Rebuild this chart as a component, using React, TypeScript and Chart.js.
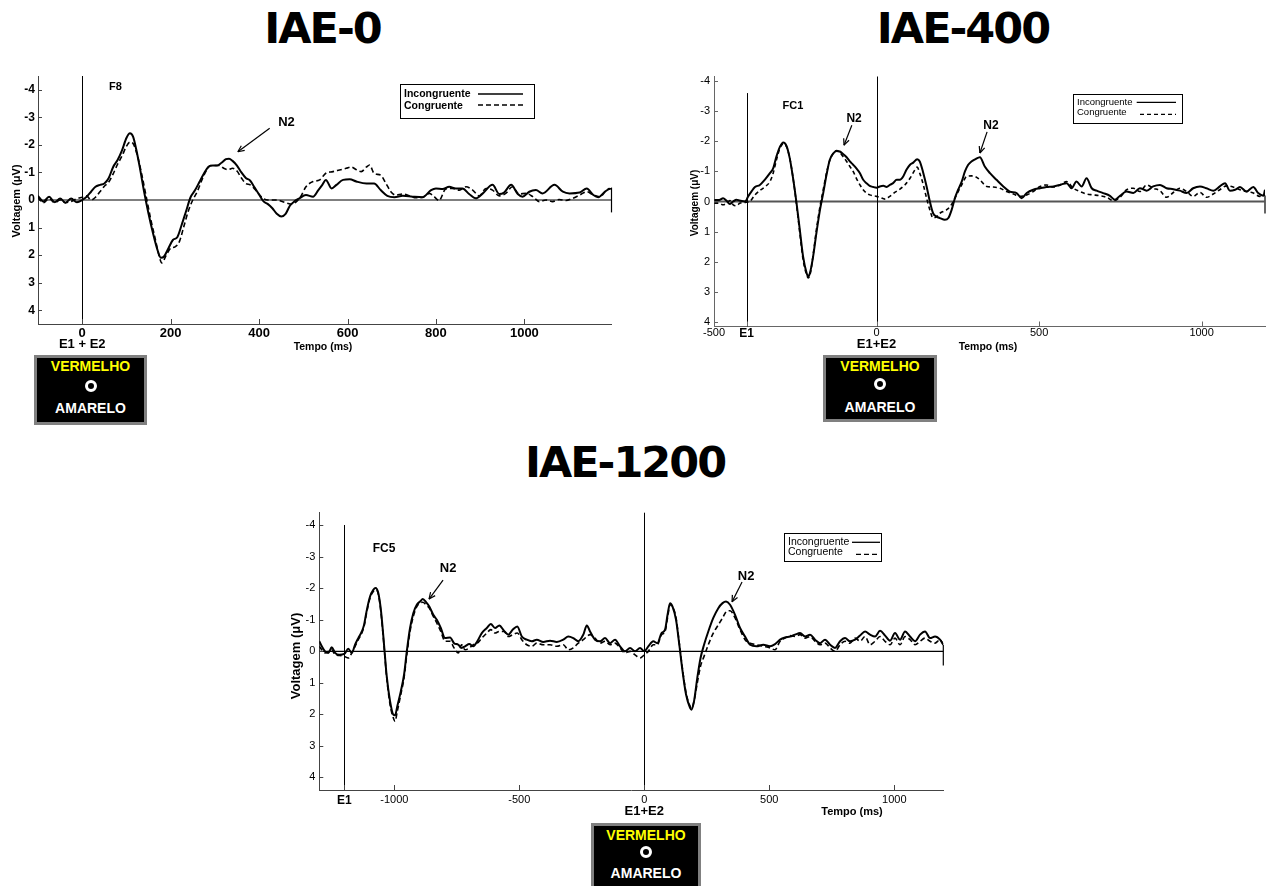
import React, { useEffect, useRef } from 'react';
import { Chart, registerables } from 'chart.js';

Chart.register(...registerables);

const FONT = 'Arial, "Liberation Sans", Helvetica, sans-serif';
const TITLE_FONT = '"DejaVu Sans", Verdana, sans-serif';

type Pt = [number, number]; // [time in ms, amplitude in µV]

// ---------- IAE-0 (F8) ----------
const iae0Incongruente: Pt[] = [
  [-100, -0.15], [-88, 0.05], [-75, -0.12], [-62, 0.08], [-50, -0.05], [-38, 0.1], [-25, -0.05], [-12, 0.08],
  [0, 0], [10, -0.12], [20, -0.3], [30, -0.48], [40, -0.55], [50, -0.6], [60, -0.8], [70, -1.2], [80, -1.45],
  [90, -1.8], [100, -2.25], [108, -2.42], [115, -2.3], [122, -1.85], [130, -1.2], [140, -0.3], [150, 0.5],
  [160, 1.2], [170, 1.8], [178, 2.1], [185, 2.05], [195, 1.75], [205, 1.45], [215, 1.35], [225, 0.9],
  [235, 0.4], [245, -0.1], [255, -0.35], [265, -0.65], [275, -0.95], [285, -1.2], [295, -1.25], [305, -1.25],
  [315, -1.35], [325, -1.48], [332, -1.5], [340, -1.42], [350, -1.25], [360, -1.0], [370, -0.8], [380, -0.7],
  [390, -0.45], [400, -0.2], [410, 0.05], [420, 0.15], [430, 0.3], [440, 0.5], [450, 0.6], [460, 0.5],
  [470, 0.2], [480, 0.05], [490, -0.05], [506, -0.18], [522, -0.12], [534, -0.36], [543, -0.55], [551, -0.73],
  [564, -0.42], [575, -0.55], [590, -0.73], [605, -0.75], [620, -0.67], [643, -0.6], [660, -0.6], [675, -0.36],
  [690, -0.15], [706, -0.1], [725, -0.15], [747, -0.12], [770, -0.1], [789, -0.36], [800, -0.42], [815, -0.4],
  [830, -0.48], [845, -0.42], [860, -0.42], [875, -0.22], [890, -0.06], [906, -0.24], [928, -0.55], [943, -0.22],
  [954, -0.27], [970, -0.55], [985, -0.22], [996, -0.12], [1011, -0.3], [1026, -0.36], [1041, -0.24],
  [1068, -0.55], [1087, -0.3], [1102, -0.24], [1125, -0.27], [1141, -0.42], [1156, -0.18], [1167, -0.1],
  [1182, -0.3], [1193, -0.42],
];

const iae0Congruente: Pt[] = [
  [-100, -0.1], [-88, 0.1], [-75, -0.05], [-62, 0.1], [-50, 0], [-38, 0.1], [-25, 0.05], [-12, -0.05],
  [0, -0.1], [10, -0.15], [20, 0], [30, -0.1], [40, -0.3], [50, -0.5], [60, -0.65], [70, -0.95], [80, -1.3],
  [90, -1.6], [100, -1.95], [108, -2.1], [115, -2.05], [125, -1.6], [135, -0.9], [145, -0.1], [155, 0.7],
  [165, 1.4], [175, 2.1], [180, 2.28], [190, 2.0], [200, 1.75], [210, 1.7], [220, 1.5], [230, 0.95], [240, 0.4],
  [250, 0], [260, -0.3], [270, -0.7], [280, -1.05], [290, -1.25], [300, -1.25], [310, -1.25], [320, -1.15],
  [330, -1.1], [340, -1.15], [350, -1.05], [360, -0.8], [370, -0.6], [380, -0.55], [390, -0.4], [400, -0.2],
  [410, -0.05], [420, 0], [440, 0], [460, 0.1], [475, 0.15], [485, 0.05], [495, -0.15], [506, -0.48],
  [522, -0.67], [537, -0.73], [551, -0.97], [567, -1.03], [582, -1.09], [597, -1.15], [608, -1.2], [620, -1.1],
  [631, -1.03], [643, -1.2], [650, -1.27], [660, -0.97], [675, -0.9], [687, -0.6], [698, -0.3], [709, -0.18],
  [725, -0.22], [740, -0.15], [755, -0.08], [770, -0.1], [785, -0.24], [796, -0.12], [807, 0.02], [822, -0.4],
  [837, -0.42], [853, -0.36], [868, -0.48], [883, -0.36], [898, -0.15], [913, -0.42], [928, -0.36],
  [943, -0.15], [958, -0.24], [973, -0.48], [988, -0.22], [1004, -0.24], [1019, -0.12], [1034, 0.06],
  [1049, 0], [1064, 0.06], [1079, -0.02], [1094, 0.02], [1109, -0.06], [1125, -0.18], [1141, -0.3],
  [1156, -0.18], [1171, -0.12], [1186, -0.36], [1197, -0.42],
];

// ---------- IAE-400 (FC1) ----------
const iae400Incongruente: Pt[] = [
  [-499, -0.05], [-484, -0.05], [-472, -0.11], [-462, -0.03], [-451, 0.08], [-441, 0], [-431, -0.06],
  [-421, -0.03], [-404, 0], [-395, -0.17], [-385, -0.33], [-374, -0.48], [-359, -0.55], [-344, -0.72],
  [-328, -0.94], [-318, -1.1], [-308, -1.49], [-297, -1.82], [-287, -1.96], [-277, -1.85], [-267, -1.44],
  [-256, -0.72], [-246, 0.06], [-236, 0.94], [-226, 1.82], [-215, 2.38], [-210, 2.49], [-205, 2.38],
  [-195, 1.82], [-185, 1.05], [-174, 0.28], [-164, -0.28], [-154, -0.88], [-144, -1.38], [-133, -1.6],
  [-123, -1.68], [-113, -1.66], [-103, -1.58], [-92, -1.47], [-82, -1.33], [-72, -1.22], [-62, -1.1],
  [-51, -0.94], [-41, -0.72], [-31, -0.61], [-21, -0.52], [-10, -0.48], [0, -0.46], [10, -0.5], [21, -0.52],
  [31, -0.48], [41, -0.55], [51, -0.61], [62, -0.72], [72, -0.72], [82, -0.83], [92, -1.05], [103, -1.22],
  [113, -1.29], [125, -1.4], [133, -1.33], [144, -0.94], [154, -0.5], [164, 0], [174, 0.39], [185, 0.5],
  [195, 0.55], [210, 0.61], [221, 0.55], [231, 0.28], [241, -0.11], [251, -0.39], [262, -0.66], [272, -1.0],
  [282, -1.22], [292, -1.33], [303, -1.4], [318, -1.47], [333, -1.16], [349, -0.94], [369, -0.72],
  [390, -0.5], [410, -0.33], [431, -0.28], [446, -0.11], [462, -0.28], [482, -0.39], [503, -0.44],
  [523, -0.48], [544, -0.5], [564, -0.55], [585, -0.61], [600, -0.44], [615, -0.66], [631, -0.5],
  [646, -0.77], [662, -0.44], [677, -0.36], [697, -0.28], [718, -0.19], [733, -0.06], [749, -0.19],
  [769, -0.33], [790, -0.28], [810, -0.44], [831, -0.36], [851, -0.5], [872, -0.55], [892, -0.44],
  [913, -0.41], [933, -0.36], [954, -0.28], [974, -0.44], [995, -0.5], [1015, -0.44], [1036, -0.36],
  [1056, -0.5], [1072, -0.61], [1087, -0.36], [1103, -0.39], [1118, -0.48], [1138, -0.33], [1159, -0.48],
  [1174, -0.28], [1190, -0.19], [1195, -0.39],
];

const iae400Congruente: Pt[] = [
  [-499, 0.06], [-484, 0.06], [-472, 0.11], [-462, 0.06], [-451, -0.03], [-441, 0.11], [-431, 0.14],
  [-421, 0.06], [-404, 0.03], [-390, 0], [-374, -0.22], [-359, -0.36], [-344, -0.48], [-328, -0.66],
  [-318, -0.94], [-308, -1.38], [-297, -1.77], [-287, -1.91], [-277, -1.82], [-267, -1.44], [-256, -0.72],
  [-246, 0.11], [-236, 1.05], [-226, 1.93], [-215, 2.43], [-210, 2.54], [-203, 2.35], [-195, 1.77],
  [-185, 0.94], [-174, 0.17], [-164, -0.39], [-154, -0.94], [-144, -1.36], [-133, -1.6], [-123, -1.69],
  [-113, -1.63], [-103, -1.49], [-92, -1.33], [-82, -1.16], [-72, -1.0], [-62, -0.77], [-51, -0.55],
  [-41, -0.39], [-31, -0.28], [-21, -0.22], [-10, -0.19], [0, -0.17], [10, -0.14], [26, -0.08], [41, -0.17],
  [56, -0.3], [72, -0.41], [87, -0.55], [103, -0.77], [118, -1.05], [125, -1.14], [133, -0.94], [144, -0.55],
  [154, -0.11], [164, 0.28], [174, 0.55], [185, 0.5], [195, 0.39], [205, 0.33], [215, 0.28], [226, 0.17],
  [236, 0], [246, -0.22], [262, -0.55], [277, -0.83], [292, -0.85], [303, -0.83], [318, -0.72], [339, -0.5],
  [359, -0.48], [380, -0.44], [400, -0.33], [421, -0.25], [441, -0.17], [462, -0.22], [482, -0.33],
  [503, -0.5], [523, -0.55], [544, -0.48], [564, -0.55], [585, -0.66], [605, -0.44], [626, -0.33],
  [646, -0.25], [667, -0.22], [687, -0.19], [708, -0.14], [728, -0.03], [749, -0.14], [769, -0.39],
  [790, -0.44], [810, -0.33], [831, -0.55], [851, -0.44], [872, -0.36], [892, -0.14], [913, -0.3],
  [933, -0.44], [954, -0.33], [974, -0.17], [995, -0.3], [1015, -0.14], [1036, -0.25], [1056, -0.39],
  [1077, -0.52], [1097, -0.48], [1118, -0.39], [1138, -0.33], [1159, -0.28], [1179, -0.17], [1195, -0.22],
];

// ---------- IAE-1200 (FC5) ----------
const iae1200Incongruente: Pt[] = [
  [-1300, -0.32], [-1290, -0.16], [-1277, 0], [-1264, 0.05], [-1250, -0.13], [-1237, 0.05], [-1220, 0.11],
  [-1200, 0.08], [-1184, -0.08], [-1170, 0.05], [-1157, -0.21], [-1144, -0.42], [-1130, -0.63],
  [-1121, -0.84], [-1111, -1.27], [-1097, -1.74], [-1084, -1.95], [-1075, -2.01], [-1064, -1.85],
  [-1053, -1.27], [-1041, -0.21], [-1031, 0.74], [-1017, 1.58], [-1004, 2.01], [-997, 2.03], [-988, 1.74],
  [-974, 1.27], [-961, 0.74], [-950, 0], [-937, -0.74], [-924, -1.21], [-910, -1.48], [-897, -1.58],
  [-886, -1.66], [-873, -1.56], [-860, -1.42], [-844, -1.16], [-830, -1.0], [-814, -0.74], [-797, -0.42],
  [-777, -0.44], [-761, -0.26], [-744, -0.21], [-731, -0.11], [-717, -0.16], [-700, -0.23], [-684, -0.16],
  [-668, -0.32], [-650, -0.58], [-630, -0.74], [-614, -0.87], [-597, -0.74], [-580, -0.82], [-561, -0.65],
  [-544, -0.53], [-526, -0.69], [-508, -0.79], [-490, -0.47], [-470, -0.37], [-450, -0.32], [-430, -0.37],
  [-404, -0.3], [-377, -0.34], [-350, -0.3], [-324, -0.37], [-304, -0.47], [-284, -0.42], [-264, -0.32],
  [-244, -0.53], [-230, -0.82], [-217, -0.63], [-197, -0.37], [-177, -0.32], [-157, -0.42], [-137, -0.26],
  [-117, -0.37], [-97, -0.16], [-77, 0], [-57, -0.11], [-37, 0], [-17, -0.11], [0, 0], [16, -0.16],
  [36, -0.32], [52, -0.26], [69, -0.58], [83, -0.69], [93, -1.16], [103, -1.53], [113, -1.42], [127, -1.0],
  [140, -0.21], [153, 0.63], [167, 1.37], [183, 1.79], [189, 1.85], [199, 1.58], [212, 0.84], [225, 0.21],
  [239, -0.21], [256, -0.63], [276, -1.06], [296, -1.37], [313, -1.53], [327, -1.58], [343, -1.48],
  [363, -1.16], [383, -0.74], [403, -0.47], [423, -0.21], [449, -0.16], [476, -0.21], [503, -0.16],
  [523, -0.23], [543, -0.37], [563, -0.44], [583, -0.47], [603, -0.53], [623, -0.58], [643, -0.47],
  [663, -0.53], [683, -0.37], [703, -0.26], [723, -0.37], [743, -0.21], [763, -0.11], [783, -0.32],
  [803, -0.42], [823, -0.32], [843, -0.37], [863, -0.5], [883, -0.63], [903, -0.53], [923, -0.47],
  [943, -0.65], [963, -0.5], [983, -0.34], [1003, -0.58], [1023, -0.37], [1043, -0.63], [1063, -0.47],
  [1083, -0.32], [1103, -0.53], [1123, -0.63], [1143, -0.42], [1163, -0.47], [1183, -0.37], [1196, -0.21],
];

const iae1200Congruente: Pt[] = [
  [-1300, -0.16], [-1290, -0.05], [-1277, 0.05], [-1264, 0], [-1250, -0.05], [-1237, 0.11], [-1220, 0.13],
  [-1200, 0.16], [-1184, 0.21], [-1170, 0.05], [-1157, -0.16], [-1144, -0.37], [-1130, -0.58],
  [-1121, -0.79], [-1111, -1.21], [-1097, -1.69], [-1084, -1.9], [-1075, -1.95], [-1064, -1.82],
  [-1053, -1.21], [-1041, -0.16], [-1031, 0.79], [-1017, 1.69], [-1004, 2.11], [-997, 2.22], [-988, 1.9],
  [-974, 1.37], [-961, 0.84], [-950, 0.11], [-937, -0.63], [-924, -1.11], [-910, -1.42], [-897, -1.53],
  [-886, -1.56], [-873, -1.48], [-860, -1.37], [-844, -1.11], [-830, -0.9], [-814, -0.63], [-797, -0.32],
  [-777, -0.32], [-761, -0.11], [-744, 0.05], [-731, -0.21], [-717, -0.05], [-700, -0.11], [-684, -0.21],
  [-668, -0.26], [-650, -0.42], [-630, -0.58], [-614, -0.69], [-597, -0.58], [-580, -0.63], [-561, -0.63],
  [-544, -0.47], [-526, -0.53], [-508, -0.58], [-490, -0.37], [-470, -0.21], [-450, -0.16], [-430, -0.26],
  [-404, -0.21], [-377, -0.21], [-350, -0.16], [-324, -0.21], [-304, -0.05], [-284, -0.11], [-264, -0.26],
  [-244, -0.37], [-230, -0.47], [-217, -0.53], [-197, -0.42], [-177, -0.26], [-157, -0.32], [-137, -0.21],
  [-117, -0.26], [-97, -0.11], [-77, 0.05], [-57, 0], [-37, 0.11], [-17, 0.21], [0, 0.11], [16, 0],
  [36, -0.21], [52, -0.21], [69, -0.53], [83, -0.63], [93, -1.06], [103, -1.48], [113, -1.42], [127, -1.06],
  [140, -0.26], [153, 0.58], [167, 1.32], [183, 1.74], [189, 1.81], [199, 1.58], [212, 1.0], [225, 0.47],
  [239, 0.16], [256, -0.21], [276, -0.58], [296, -0.84], [313, -1.06], [327, -1.25], [343, -1.29],
  [363, -1.06], [383, -0.69], [403, -0.37], [423, -0.26], [449, -0.21], [476, -0.16], [503, -0.11],
  [523, -0.05], [543, -0.32], [563, -0.42], [583, -0.5], [603, -0.47], [623, -0.53], [643, -0.42],
  [663, -0.47], [683, -0.32], [703, -0.21], [723, -0.26], [743, -0.11], [763, 0], [783, -0.21],
  [803, -0.32], [823, -0.26], [843, -0.42], [863, -0.32], [883, -0.47], [903, -0.21], [923, -0.32],
  [943, -0.47], [963, -0.32], [983, -0.21], [1003, -0.42], [1023, -0.21], [1043, -0.47], [1063, -0.37],
  [1083, -0.21], [1103, -0.32], [1123, -0.42], [1143, -0.32], [1163, -0.26], [1183, -0.37], [1196, -0.21],
];

// axis ticks
const voltTicks = [-4, -3, -2, -1, 0, 1, 2, 3, 4];
const iae0TimeTicks = [0, 200, 400, 600, 800, 1000];
const iae400TimeTicks = [-500, -400, 0, 500, 1000];
const iae1200TimeTicks = [-1200, -1000, -500, 0, 500, 1000];
const iae400Onsets = [-400, 0];
const iae1200Onsets = [-1200, 0];

const seriesLabels = ['Incongruente', 'Congruente'];

// ---------- drawing helpers ----------
type Arrow = { tx: number; ty: number; x1: number; y1: number; x2: number; y2: number };

interface Decor {
  axisColor: string;
  zeroColor: string;
  zeroWidth: number;
  events: { at: number; from?: number }[];
  endMark: [number, number];
  electrode: { text: string; x: number; y: number; size: number };
  n2: Arrow[];
  n2Size: number;
  onset: { text: string; y: number; size: number };
  xTitle: { x: number; y: number; size: number };
  yTitle: { x: number; y: number; size: number };
  legend: {
    x: number; y: number; w: number; h: number; size: number; bold: boolean;
    textX: number; base: [number, number];
    solid: [number, number, number]; dashed: [number, number, number]; dash: number[];
  };
}

function seg(ctx: CanvasRenderingContext2D, x1: number, y1: number, x2: number, y2: number) {
  ctx.beginPath();
  ctx.moveTo(x1, y1);
  ctx.lineTo(x2, y2);
  ctx.stroke();
}

function font(size: number, bold: boolean) {
  return `${bold ? 'bold ' : ''}${size}px ${FONT}`;
}

function decorPlugin(d: Decor) {
  return {
    id: 'erpDecor',
    beforeDatasetsDraw(chart: any) {
      const { ctx, chartArea: a, scales } = chart;
      const x = scales.x;
      const y = scales.y;
      ctx.save();
      // baseline at 0 µV
      const y0 = y.getPixelForValue(0);
      ctx.strokeStyle = d.zeroColor;
      ctx.lineWidth = d.zeroWidth;
      seg(ctx, a.left, y0, a.right, y0);
      seg(ctx, a.right, y.getPixelForValue(d.endMark[0]), a.right, y.getPixelForValue(d.endMark[1]));
      // stimulus onset lines
      ctx.strokeStyle = '#000';
      ctx.lineWidth = 1;
      for (const e of d.events) {
        const px = Math.round(x.getPixelForValue(e.at)) + 0.5;
        const top = e.from === undefined ? a.top : y.getPixelForValue(e.from);
        seg(ctx, px, top, px, a.bottom);
      }
      // inward tick marks
      ctx.strokeStyle = d.axisColor;
      for (const t of y.ticks) {
        const py = Math.round(y.getPixelForValue(t.value)) + 0.5;
        seg(ctx, a.left, py, a.left + 4, py);
      }
      for (const t of x.ticks) {
        const px = Math.round(x.getPixelForValue(t.value)) + 0.5;
        seg(ctx, px, a.bottom, px, a.bottom - 5);
      }
      ctx.restore();
    },
    afterDraw(chart: any) {
      const { ctx, scales } = chart;
      const x = scales.x;
      const y = scales.y;
      ctx.save();
      ctx.fillStyle = '#000';
      ctx.strokeStyle = '#000';
      ctx.textAlign = 'center';
      ctx.textBaseline = 'middle';

      // electrode name
      ctx.font = font(d.electrode.size, true);
      ctx.fillText(d.electrode.text, x.getPixelForValue(d.electrode.x), y.getPixelForValue(d.electrode.y));

      // N2 arrows
      ctx.font = font(d.n2Size, true);
      ctx.lineWidth = 1.2;
      for (const n of d.n2) {
        ctx.fillText('N2', x.getPixelForValue(n.tx), y.getPixelForValue(n.ty));
        const x1 = x.getPixelForValue(n.x1);
        const y1 = y.getPixelForValue(n.y1);
        const x2 = x.getPixelForValue(n.x2);
        const y2 = y.getPixelForValue(n.y2);
        seg(ctx, x1, y1, x2, y2);
        const ang = Math.atan2(y2 - y1, x2 - x1);
        const hl = 7;
        for (const s of [-0.42, 0.42]) {
          seg(ctx, x2, y2, x2 - hl * Math.cos(ang + s), y2 - hl * Math.sin(ang + s));
        }
      }

      // onset label under the 0 ms tick
      ctx.font = font(d.onset.size, true);
      ctx.fillText(d.onset.text, x.getPixelForValue(0), d.onset.y);

      // axis titles
      ctx.font = font(d.xTitle.size, true);
      ctx.fillText('Tempo (ms)', d.xTitle.x, d.xTitle.y);
      ctx.save();
      ctx.translate(d.yTitle.x, d.yTitle.y);
      ctx.rotate(-Math.PI / 2);
      ctx.font = font(d.yTitle.size, true);
      ctx.fillText('Voltagem (μV)', 0, 0);
      ctx.restore();

      // legend box
      const L = d.legend;
      ctx.fillStyle = '#fff';
      ctx.fillRect(L.x, L.y, L.w, L.h);
      ctx.lineWidth = 1;
      ctx.strokeStyle = '#000';
      ctx.strokeRect(L.x + 0.5, L.y + 0.5, L.w, L.h);
      ctx.fillStyle = '#000';
      ctx.textAlign = 'left';
      ctx.textBaseline = 'alphabetic';
      ctx.font = font(L.size, L.bold);
      const ds = chart.data.datasets;
      ctx.fillText(ds[0].label, L.x + L.textX, L.y + L.base[0]);
      ctx.fillText(ds[1].label, L.x + L.textX, L.y + L.base[1]);
      ctx.lineWidth = 1.3;
      seg(ctx, L.x + L.solid[0], L.y + L.solid[2], L.x + L.solid[1], L.y + L.solid[2]);
      ctx.setLineDash(L.dash);
      seg(ctx, L.x + L.dashed[0], L.y + L.dashed[2], L.x + L.dashed[1], L.y + L.dashed[2]);
      ctx.setLineDash([]);
      ctx.restore();
    },
  };
}

interface PanelProps {
  left: number; top: number; w: number; h: number;
  incong: Pt[]; cong: Pt[];
  xMin: number; xMax: number; yLim: number;
  xTicks: number[]; xLabels: Record<number, string>; boldTicks: number[];
  tickSize: number; tickBold: boolean; yTickSize: number;
  xTickPad: number; yTickPad: number;
  yWidth: number;
  padding: { left: number; right: number; top: number; bottom: number };
  axisColor: string;
  dash: number[];
  decor: Decor;
}

function ErpPanel(p: PanelProps) {
  const ref = useRef<HTMLCanvasElement>(null);
  useEffect(() => {
    const toXY = (pts: Pt[]) => pts.map(([t, v]) => ({ x: t, y: v }));
    const chart = new Chart(ref.current as HTMLCanvasElement, {
      type: 'line',
      data: {
        datasets: [
          {
            label: seriesLabels[0], data: toXY(p.incong), borderColor: '#000', borderWidth: 2,
            pointRadius: 0, fill: false, cubicInterpolationMode: 'monotone',
          },
          {
            label: seriesLabels[1], data: toXY(p.cong), borderColor: '#000', borderWidth: 1.6,
            borderDash: p.dash, pointRadius: 0, fill: false, cubicInterpolationMode: 'monotone',
          },
        ],
      },
      options: {
        animation: false,
        responsive: false,
        maintainAspectRatio: false,
        events: [],
        layout: { autoPadding: false, padding: p.padding },
        plugins: { legend: { display: false }, tooltip: { enabled: false }, title: { display: false } },
        scales: {
          x: {
            type: 'linear',
            min: p.xMin,
            max: p.xMax,
            afterFit: (s: any) => { s.height = 20; },
            afterBuildTicks: (s: any) => { s.ticks = p.xTicks.map((v) => ({ value: v })); },
            grid: { display: false, drawTicks: false },
            border: { display: true, color: p.axisColor, width: 1 },
            ticks: {
              autoSkip: false,
              maxRotation: 0,
              padding: p.xTickPad,
              color: '#000',
              callback: (v: any) => (p.xLabels[v] !== undefined ? p.xLabels[v] : String(v)),
              font: (c: any) => {
                const bold = p.tickBold || (c.tick && p.boldTicks.includes(c.tick.value));
                const size = c.tick && p.boldTicks.includes(c.tick.value) ? 12 : p.tickSize;
                return { family: FONT, size, weight: bold ? 'bold' : 'normal' };
              },
            },
          },
          y: {
            type: 'linear',
            reverse: true,
            min: -p.yLim,
            max: p.yLim,
            afterFit: (s: any) => { s.width = p.yWidth; },
            afterBuildTicks: (s: any) => { s.ticks = voltTicks.map((v) => ({ value: v })); },
            grid: { display: false, drawTicks: false },
            border: { display: true, color: p.axisColor, width: 1 },
            ticks: {
              padding: p.yTickPad,
              color: '#000',
              font: { family: FONT, size: p.yTickSize, weight: p.tickBold ? 'bold' : 'normal' },
            },
          },
        },
      },
      plugins: [decorPlugin(p.decor)],
    } as any);
    return () => chart.destroy();
  }, []);
  return (
    <canvas
      ref={ref}
      width={p.w}
      height={p.h}
      style={{ position: 'absolute', left: p.left, top: p.top, width: p.w, height: p.h }}
    />
  );
}

function PanelTitle({ text, cx, top }: { text: string; cx: number; top: number }) {
  return (
    <div
      style={{
        position: 'absolute', left: cx - 200, top, width: 400, textAlign: 'center',
        fontFamily: TITLE_FONT, fontWeight: 'bold', fontSize: 43, lineHeight: '43px',
        letterSpacing: '-2px', color: '#000',
      }}
    >
      {text}
    </div>
  );
}

function StimulusCard(props: { left: number; top: number; w: number; h: number; vy: number; cy: number; ay: number }) {
  const line = (text: string, cy: number, color: string) => (
    <div
      style={{
        position: 'absolute', left: 0, width: '100%', top: cy - 8, textAlign: 'center',
        fontFamily: FONT, fontWeight: 'bold', fontSize: 14, lineHeight: '16px', color,
      }}
    >
      {text}
    </div>
  );
  return (
    <div
      style={{
        position: 'absolute', left: props.left, top: props.top, width: props.w, height: props.h,
        background: '#000', border: '3px solid #808080', boxSizing: 'border-box', overflow: 'hidden',
      }}
    >
      {line('VERMELHO', props.vy - 3, '#ffff00')}
      <div
        style={{
          position: 'absolute', left: props.w / 2 - 3 - 6, top: props.cy - 3 - 6, width: 12, height: 12,
          border: '3.5px solid #fff', borderRadius: '50%', boxSizing: 'border-box',
        }}
      />
      {line('AMARELO', props.ay - 3, '#ffffff')}
    </div>
  );
}

export default function App() {
  return (
    <div style={{ position: 'absolute', left: 0, top: 0, width: 1267, height: 886, background: '#fff', overflow: 'hidden' }}>
      <PanelTitle text="IAE-0" cx={322.5} top={7} />
      <PanelTitle text="IAE-400" cx={963} top={7} />
      <PanelTitle text="IAE-1200" cx={625} top={441} />

      <ErpPanel
        left={0} top={60} w={640} h={300}
        incong={iae0Incongruente} cong={iae0Congruente}
        xMin={-100} xMax={1197} yLim={4.5}
        xTicks={iae0TimeTicks} xLabels={{}} boldTicks={[]}
        tickSize={13} tickBold={true} yTickSize={12}
        xTickPad={2} yTickPad={3} yWidth={38}
        padding={{ left: 0, right: 28.5, top: 16, bottom: 16 }}
        axisColor="#444" dash={[5, 3]}
        decor={{
          axisColor: '#444', zeroColor: '#000', zeroWidth: 1.2,
          events: [{ at: 0 }], endMark: [-0.45, 0.45],
          electrode: { text: 'F8', x: 75, y: -4.1, size: 11 },
          n2: [{ tx: 462, ty: -2.82, x1: 424, y1: -2.6, x2: 352, y2: -1.75 }], n2Size: 13,
          onset: { text: 'E1 + E2', y: 284.7, size: 13 },
          xTitle: { x: 323, y: 287, size: 10.5 },
          yTitle: { x: 16.7, y: 141, size: 11 },
          legend: {
            x: 400, y: 24, w: 134, h: 34, size: 10.5, bold: true, textX: 4, base: [12.5, 24.5],
            solid: [78, 123, 10], dashed: [78, 123, 21], dash: [5, 3],
          },
        }}
      />

      <ErpPanel
        left={660} top={60} w={607} h={300}
        incong={iae400Incongruente} cong={iae400Congruente}
        xMin={-500} xMax={1195} yLim={4.15}
        xTicks={iae400TimeTicks} xLabels={{ [-400]: 'E1' }} boldTicks={[-400]}
        tickSize={11} tickBold={false} yTickSize={11}
        xTickPad={0} yTickPad={4} yWidth={30}
        padding={{ left: 24, right: 2, top: 16.5, bottom: 13.5 }}
        axisColor="#666" dash={[4, 3]}
        decor={{
          axisColor: '#666', zeroColor: '#555', zeroWidth: 1.8,
          events: [{ at: iae400Onsets[0], from: -3.6 }, { at: iae400Onsets[1] }], endMark: [-0.2, 0.4],
          electrode: { text: 'FC1', x: -257, y: -3.17, size: 11 },
          n2: [
            { tx: -69, ty: -2.75, x1: -76, y1: -2.53, x2: -100, y2: -1.87 },
            { tx: 352, ty: -2.52, x1: 340, y1: -2.31, x2: 318, y2: -1.61 },
          ],
          n2Size: 12,
          onset: { text: 'E1+E2', y: 284, size: 13 },
          xTitle: { x: 328, y: 287, size: 10.5 },
          yTitle: { x: 35, y: 143, size: 10 },
          legend: {
            x: 413, y: 34, w: 109, h: 29, size: 9.5, bold: false, textX: 4, base: [10.5, 20.5],
            solid: [63.7, 103, 8.3], dashed: [67, 103, 20.3], dash: [4, 3],
          },
        }}
      />

      <ErpPanel
        left={260} top={490} w={720} h={330}
        incong={iae1200Incongruente} cong={iae1200Congruente}
        xMin={-1300} xMax={1196} yLim={4.4}
        xTicks={iae1200TimeTicks} xLabels={{ [-1200]: 'E1' }} boldTicks={[-1200]}
        tickSize={11} tickBold={false} yTickSize={11}
        xTickPad={3} yTickPad={4} yWidth={30}
        padding={{ left: 29.3, right: 36.7, top: 22.7, bottom: 10 }}
        axisColor="#444" dash={[5, 3]}
        decor={{
          axisColor: '#444', zeroColor: '#000', zeroWidth: 1.2,
          events: [{ at: iae1200Onsets[0], from: -4.01 }, { at: iae1200Onsets[1] }], endMark: [-0.2, 0.45],
          electrode: { text: 'FC5', x: -1041, y: -3.25, size: 12 },
          n2: [
            { tx: -785, ty: -2.64, x1: -805, y1: -2.26, x2: -861, y2: -1.66 },
            { tx: 407, ty: -2.39, x1: 391, y1: -2.2, x2: 351, y2: -1.57 },
          ],
          n2Size: 13,
          onset: { text: 'E1+E2', y: 321, size: 13 },
          xTitle: { x: 592, y: 322, size: 11 },
          yTitle: { x: 36.7, y: 166, size: 13 },
          legend: {
            x: 524, y: 43, w: 97, h: 28, size: 10.5, bold: false, textX: 4, base: [12, 22],
            solid: [68, 96, 9.3], dashed: [72, 95, 21.3], dash: [5, 3],
          },
        }}
      />

      <StimulusCard left={34} top={355} w={113} h={70} vy={11} cy={30.7} ay={53.3} />
      <StimulusCard left={823} top={355} w={114} h={67} vy={11} cy={29} ay={51.5} />
      <StimulusCard left={591} top={823} w={110} h={70} vy={12} cy={28.7} ay={49.7} />
    </div>
  );
}
